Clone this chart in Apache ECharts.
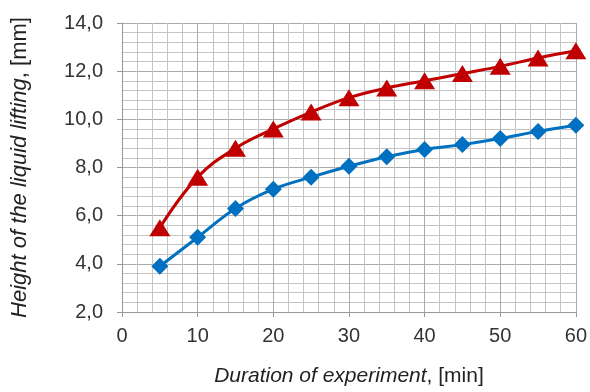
<!DOCTYPE html>
<html>
<head>
<meta charset="utf-8">
<script src="https://cdn.jsdelivr.net/npm/echarts@6/dist/echarts.min.js"></script>
<style>
  html, body { margin: 0; padding: 0; background: #fff; }
  #chart { width: 590px; height: 392px; }
</style>
</head>
<body>
<div id="chart"></div>
<script>
const durations = [5, 10, 15, 20, 25, 30, 35, 40, 45, 50, 55, 60];
const redHeights = [5.5, 7.6, 8.8, 9.6, 10.3, 10.9, 11.3, 11.6, 11.9, 12.2, 12.55, 12.85];
const blueHeights = [3.9, 5.1, 6.3, 7.1, 7.6, 8.05, 8.45, 8.75, 8.95, 9.2, 9.5, 9.75];

const chartDom = document.getElementById('chart');
const myChart = echarts.init(chartDom);

const toPairs = (ys) => durations.map((x, i) => [x, ys[i]]);

const option = {
  animation: false,
  textStyle: { fontFamily: 'Liberation Sans, Arial, sans-serif' },
  grid: { left: 122, right: 11, top: 23, bottom: 77 },
  xAxis: {
    type: 'value',
    min: 0,
    max: 60,
    interval: 10,
    name: '{i|Duration of experiment}{n|, [min]}',
    nameLocation: 'middle',
    nameGap: 54,
    nameTextStyle: {
      rich: {
        i: { fontStyle: 'italic', fontSize: 21, color: '#222' },
        n: { fontSize: 21, color: '#222' }
      }
    },
    axisLine: { lineStyle: { color: '#999', width: 1 } },
    axisTick: { show: true, length: 5, lineStyle: { color: '#999' } },
    axisLabel: { fontSize: 20, color: '#333', margin: 14 },
    splitLine: { show: true, lineStyle: { color: '#aaa', width: 1 } },
    minorTick: { show: false, splitNumber: 5 },
    minorSplitLine: { show: true, lineStyle: { color: '#c4c4c4', width: 1 } }
  },
  yAxis: {
    type: 'value',
    min: 2,
    max: 14,
    interval: 2,
    name: '{i|Height of the liquid lifting}{n|, [mm]}',
    nameLocation: 'middle',
    nameGap: 91,
    nameTextStyle: {
      rich: {
        i: { fontStyle: 'italic', fontSize: 22, color: '#222' },
        n: { fontSize: 22, color: '#222' }
      }
    },
    axisLine: { show: true, lineStyle: { color: '#999', width: 1 } },
    axisTick: { show: true, length: 5, lineStyle: { color: '#999' } },
    axisLabel: {
      fontSize: 20,
      color: '#333',
      margin: 19,
      formatter: (v) => v.toFixed(1).replace('.', ',')
    },
    splitLine: { show: true, lineStyle: { color: '#aaa', width: 1 } },
    minorTick: { show: false, splitNumber: 5 },
    minorSplitLine: { show: true, lineStyle: { color: '#c4c4c4', width: 1 } }
  },
  series: [
    {
      name: 'red',
      type: 'line',
      smooth: 0.4,
      data: toPairs(redHeights),
      symbol: 'triangle',
      symbolSize: [21, 17],
      itemStyle: { color: '#C00000' },
      lineStyle: { color: '#C00000', width: 3 }
    },
    {
      name: 'blue',
      type: 'line',
      smooth: 0.4,
      data: toPairs(blueHeights),
      symbol: 'diamond',
      symbolSize: [17, 17],
      itemStyle: { color: '#0070C0' },
      lineStyle: { color: '#0070C0', width: 3 }
    }
  ]
};

option && myChart.setOption(option);
</script>
</body>
</html>
